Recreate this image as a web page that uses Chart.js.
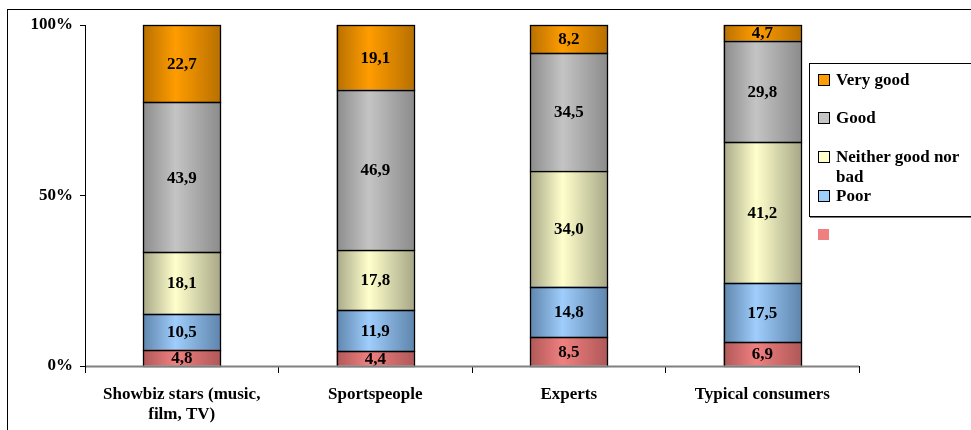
<!DOCTYPE html>
<html>
<head>
<meta charset="utf-8">
<script src="https://cdn.jsdelivr.net/npm/chart.js@4/dist/chart.umd.min.js"></script>
<style>
  body { margin: 0; background: #fff; }
  #wrap { position: relative; width: 971px; height: 430px; overflow: hidden; }
  #frame { position: absolute; left: 7px; top: 9px; width: 1000px; height: 500px; border: 1px solid #000; box-sizing: border-box; }
  canvas { position: absolute; left: 0; top: 0; }
  #legend { position: absolute; left: 809px; top: 63px; width: 200px; height: 152px; border: 1px solid #000; background: #fff;
            box-shadow: 1px 1px 0 #777; font: bold 17px "Liberation Serif", serif; color: #000; }
  .item { position: absolute; left: 8px; width: 180px; line-height: 20px; }
  .sw { position: absolute; left: 0; top: 4px; width: 10px; height: 10px; border: 1px solid #000; }
  .txt { position: absolute; left: 18px; width: 142px; }
  #extra { position: absolute; left: 818px; top: 229px; width: 11px; height: 11px; }
</style>
</head>
<body>
<div id="wrap">
  <div id="frame"></div>
  <canvas id="c" width="971" height="430"></canvas>
  <div id="legend"></div>
  <div id="extra"></div>
</div>
<script>
const categories = [['Showbiz stars (music,', 'film, TV)'], 'Sportspeople', 'Experts', 'Typical consumers']
const seriesNames = ['', 'Poor', 'Neither good nor bad', 'Good', 'Very good']
const veryPoor = [4.8, 4.4, 8.5, 6.9]
const poor = [10.5, 11.9, 14.8, 17.5]
const neither = [18.1, 17.8, 34.0, 41.2]
const good = [43.9, 46.9, 34.5, 29.8]
const veryGood = [22.7, 19.1, 8.2, 4.7]
const yTicks = [0, 50, 100]

// [edge, centre] colours for the cylinder-like shading
const shades = [
  ['#b05858', '#f08080'],
  ['#5f86ad', '#9fcdfc'],
  ['#a8a888', '#ffffcc'],
  ['#8c8c8c', '#c4c4c4'],
  ['#b87000', '#ff9c00']
]

function shaded(i) {
  return function(ctx) {
    const chart = ctx.chart
    const xs = chart.scales.x
    if (!xs || !chart.chartArea) return shades[i][1]
    const cw = (xs.right - xs.left) / categories.length
    const bw = cw * 0.4
    const cx = xs.getPixelForValue(ctx.dataIndex)
    const g = chart.ctx.createLinearGradient(cx - bw / 2, 0, cx + bw / 2, 0)
    g.addColorStop(0, shades[i][0])
    g.addColorStop(0.42, shades[i][1])
    g.addColorStop(1, shades[i][0])
    return g
  }
}

const values = [veryPoor, poor, neither, good, veryGood]
const datasets = values.map((v, i) => ({
  label: seriesNames[i],
  data: v,
  backgroundColor: shaded(i),
  borderWidth: 0,
  barPercentage: 1,
  categoryPercentage: 0.4
}))

// crisp black outlines + value labels
const valueLabels = {
  id: 'valueLabels',
  afterDatasetsDraw(chart) {
    const ctx = chart.ctx
    ctx.save()
    ctx.strokeStyle = '#000'
    ctx.lineWidth = 1.3
    chart.data.datasets.forEach((ds, di) => {
      chart.getDatasetMeta(di).data.forEach(bar => {
        const l = Math.round(bar.x - bar.width / 2) + 0.5
        const r = Math.round(bar.x + bar.width / 2) + 0.5
        const t = Math.round(Math.min(bar.y, bar.base)) + 0.5
        const b = Math.round(Math.max(bar.y, bar.base)) + 0.5
        ctx.strokeRect(l, t, r - l, b - t)
      })
    })
    ctx.font = 'bold 17px "Liberation Serif", serif'
    ctx.fillStyle = '#000'
    ctx.textAlign = 'center'
    ctx.textBaseline = 'middle'
    chart.data.datasets.forEach((ds, di) => {
      chart.getDatasetMeta(di).data.forEach((bar, j) => {
        const y = (bar.y + bar.base) / 2
        ctx.fillText(ds.data[j].toFixed(1).replace('.', ','), bar.x, y + 1)
      })
    })
    ctx.restore()
  }
}

const axisLines = {
  id: 'axisLines',
  afterDraw(chart) {
    const ctx = chart.ctx
    const a = chart.chartArea
    ctx.save()
    ctx.strokeStyle = '#808080'
    ctx.lineWidth = 2
    ctx.beginPath()
    ctx.moveTo(a.left, a.bottom + 0.5)
    ctx.lineTo(a.right, a.bottom + 0.5)
    ctx.stroke()
    ctx.strokeStyle = '#000'
    ctx.lineWidth = 1
    ctx.beginPath()
    ctx.moveTo(a.left + 0.5, a.top)
    ctx.lineTo(a.left + 0.5, a.bottom + 6)
    ctx.stroke()
    ctx.restore()
  }
}

new Chart(document.getElementById('c'), {
  type: 'bar',
  data: { labels: categories, datasets: datasets },
  plugins: [valueLabels, axisLines],
  options: {
    responsive: false,
    animation: false,
    layout: { padding: { left: 0, right: 112, top: 25, bottom: 0 } },
    plugins: { legend: { display: false }, tooltip: { enabled: false } },
    scales: {
      x: {
        stacked: true,
        afterFit(s) { s.height = 64 },
        border: { display: false },
        grid: { offset: true, drawOnChartArea: false, color: '#000', tickLength: 7 },
        ticks: { color: '#000', font: { family: 'Liberation Serif', size: 17, weight: 'bold' }, padding: 11, maxRotation: 0 }
      },
      y: {
        stacked: true,
        min: 0,
        max: 100,
        afterFit(s) { s.width = 85 },
        afterBuildTicks(s) { s.ticks = yTicks.map(v => ({ value: v })) },
        border: { display: false },
        grid: { drawOnChartArea: false, color: '#000', tickLength: 5 },
        ticks: { color: '#000', font: { family: 'Liberation Serif', size: 17, weight: 'bold' }, padding: 7, callback: v => v + '%' }
      }
    }
  }
})

// legend, reversed order like the original
const legend = document.getElementById('legend')
const tops = [6, 44, 83, 122]
;[4, 3, 2, 1].forEach((i, k) => {
  const d = document.createElement('div')
  d.className = 'item'
  d.style.top = tops[k] + 'px'
  d.innerHTML = '<span class="sw" style="background:' + shades[i][1] + '"></span><span class="txt">' + seriesNames[i] + '</span>'
  legend.appendChild(d)
})
document.getElementById('extra').style.background = shades[0][1]
</script>
</body>
</html>
